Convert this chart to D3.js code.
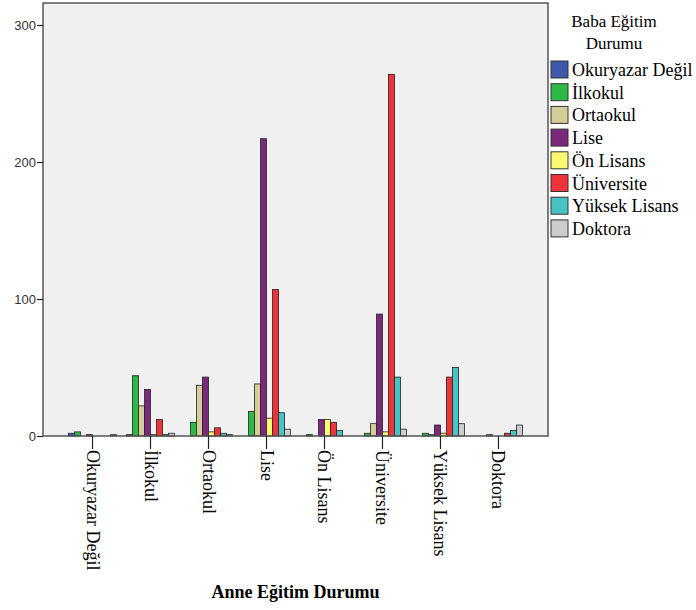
<!DOCTYPE html>
<html><head><meta charset="utf-8">
<script src="https://cdn.jsdelivr.net/npm/d3@7"></script>
<style>body{margin:0;background:#fff}svg{display:block}.serif{font-family:"Liberation Serif","Times New Roman","DejaVu Serif",serif}</style>
</head><body><div id="c"></div>
<script>
const categories = ["Okuryazar Değil","İlkokul","Ortaokul","Lise","Ön Lisans","Üniversite","Yüksek Lisans","Doktora"];
const seriesNames = ["Okuryazar Değil","İlkokul","Ortaokul","Lise","Ön Lisans","Üniversite","Yüksek Lisans","Doktora"];
const seriesColors = ["#3E58AC","#2EB848","#D3CE97","#7C287D","#FBF873","#EF3338","#48C2C5","#CCCCCC"];
// values[category][series]
const okuryazarValues = [2,3,0,1,0,0,0,1];
const ilkokulValues   = [1,44,22,34,1,12,1,2];
const ortaokulValues  = [0,10,37,43,3,6,2,1];
const liseValues      = [0,18,38,217,13,107,17,5];
const onLisansValues  = [0,1,0,12,12,10,4,0];
const universiteValues= [0,2,9,89,3,264,43,5];
const yuksekValues    = [0,2,1,8,2,43,50,9];
const doktoraValues   = [0,0,1,0,0,2,4,8];
const values = [okuryazarValues,ilkokulValues,ortaokulValues,liseValues,onLisansValues,universiteValues,yuksekValues,doktoraValues];
const yTicks = [0,100,200,300];

const W=696,H=610;
const svg=d3.select("#c").append("svg").attr("width",W).attr("height",H);
const L=43,R=548,T=3,B=436;
const x=d3.scaleBand().domain(categories).range([L,R]).paddingInner(0).paddingOuter(0.354);
const xs=d3.scaleBand().domain(seriesNames).range([-24,24]);
const y=d3.scaleLinear().domain([0,300]).range([B,25]);

svg.append("rect").attr("x",L).attr("y",T).attr("width",R-L).attr("height",B-T).attr("fill","#F0F0F0");

const g=svg.append("g");
categories.forEach((c,ci)=>{
  seriesNames.forEach((s,si)=>{
    const v=values[ci][si];
    g.append("rect")
      .attr("x",x(c)+x.bandwidth()/2+xs(s))
      .attr("y",y(v))
      .attr("width",xs.bandwidth())
      .attr("height",B-y(v))
      .attr("fill",seriesColors[si])
      .attr("stroke","#222").attr("stroke-width",0.8);
  });
});

svg.append("rect").attr("x",L).attr("y",T).attr("width",R-L).attr("height",B-T).attr("fill","none").attr("stroke","#555").attr("stroke-width",1.5);

// y axis
const ya=svg.append("g").attr("transform",`translate(${L},0)`).call(d3.axisLeft(y).tickValues(yTicks).tickSize(6).tickFormat(d3.format("d")));
ya.select(".domain").remove();
ya.selectAll("line").attr("stroke","#222").attr("stroke-width",1.2);
ya.selectAll("text").attr("font-family","Liberation Sans, Arial, sans-serif").attr("font-size",13).attr("fill","#333").attr("x",-7);

// x axis
const xa=svg.append("g").attr("transform",`translate(0,${B})`).call(d3.axisBottom(x).tickSize(13).tickFormat(""));
xa.select(".domain").remove();
xa.selectAll("line").attr("stroke","#222").attr("stroke-width",1.2);
categories.forEach(c=>{
  svg.append("text").attr("class","serif").attr("transform",`translate(${x(c)+x.bandwidth()/2-6},${B+14}) rotate(90)`)
    .attr("font-size",18).attr("fill","#000")
    .text(c);
});
svg.append("text").attr("class","serif").attr("x",(L+R)/2).attr("y",598).attr("text-anchor","middle")
  .attr("font-size",18).attr("font-weight","bold").text("Anne Eğitim Durumu");

// legend
const lg=svg.append("g");
lg.append("text").attr("class","serif").attr("x",614).attr("y",27).attr("text-anchor","middle").attr("font-size",17).text("Baba Eğitim");
lg.append("text").attr("class","serif").attr("x",614).attr("y",49).attr("text-anchor","middle").attr("font-size",17).text("Durumu");
seriesNames.forEach((s,i)=>{
  const yy=61+i*22.7;
  lg.append("rect").attr("x",551).attr("y",yy).attr("width",17).attr("height",17).attr("fill",seriesColors[i]).attr("stroke","#333").attr("stroke-width",1);
  lg.append("text").attr("class","serif").attr("x",572).attr("y",yy+15).attr("font-size",18).text(s);
});
</script></body></html>
